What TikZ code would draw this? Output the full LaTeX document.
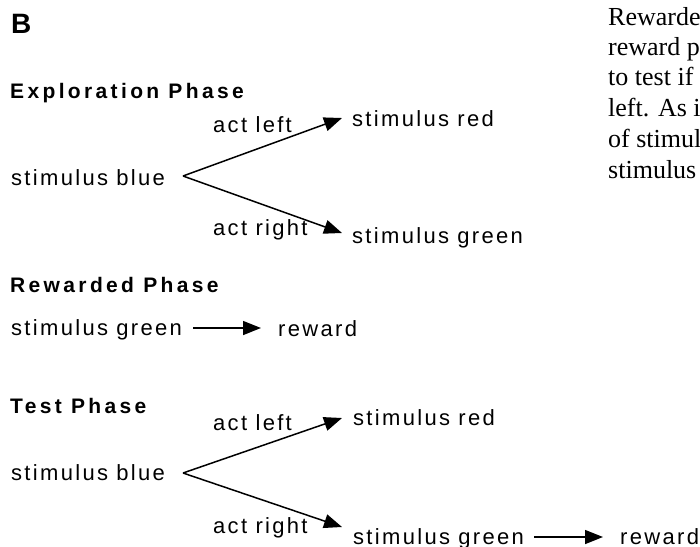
\documentclass[tikz,border=0pt]{standalone}
\usepackage{fontspec}
\setmainfont{Liberation Serif}
\newfontfamily\lab[LetterSpace=10.5]{Liberation Sans}
\newfontfamily\hdr[LetterSpace=16]{Liberation Sans}
\usetikzlibrary{arrows.meta}
\begin{document}
\begin{tikzpicture}[x=1pt,y=-1pt,
  txt/.style={anchor=base west,inner sep=0pt,font=\lab\fontsize{22}{26}\selectfont},
  head/.style={anchor=base west,inner sep=0pt,font=\hdr\bfseries\fontsize{21}{25}\selectfont},
  side/.style={anchor=base west,inner sep=0pt,font=\rmfamily\fontsize{26}{30}\selectfont},
  arr/.style={line width=1.5pt,-{Triangle[length=18pt,width=14pt]}}]
\useasboundingbox (0,0) rectangle (700,546);
\clip (0,0) rectangle (700,546);
% panel letter
\node[anchor=base west,inner sep=0pt,font=\hdr\bfseries\fontsize{28}{32}\selectfont] (B) at (11,33) {B};
% Exploration phase
\node[head] (h1) at (10,98) {Exploration Phase};
\node[txt] (eblue) at (11,185) {stimulus blue};
\node[txt] (eleft) at (213,132) {act left};
\node[txt] (eright) at (213,235) {act right};
\node[txt] (ered) at (352,126) {stimulus red};
\node[txt] (egreen) at (352,243) {stimulus green};
\coordinate (ev) at (183,176);
\coordinate (et1) at (342,118);
\coordinate (et2) at (342,233);
\draw[arr] (ev) -- (et1);
\draw[arr] (ev) -- (et2);
% Rewarded phase
\node[head] (h2) at (10,292) {Rewarded Phase};
\node[txt] (rgreen) at (11,335) {stimulus green};
\node[txt] (rrew) at (278,336) {reward};
\draw[arr] ([xshift=11pt]rgreen.east|-0,328) -- ([xshift=-17pt]rrew.west|-0,328);
% Test phase
\node[head] (h3) at (10,413) {Test Phase};
\node[txt] (tblue) at (11,480) {stimulus blue};
\node[txt] (tleft) at (213,430) {act left};
\node[txt] (tright) at (213,533) {act right};
\node[txt] (tred) at (353,425) {stimulus red};
\node[txt] (tgreen) at (353,544) {stimulus green};
\node[txt] (trew) at (620,544) {reward};
\coordinate (tv) at (183,473);
\coordinate (tt1) at (342,418);
\coordinate (tt2) at (342,527);
\draw[arr] (tv) -- (tt1);
\draw[arr] (tv) -- (tt2);
\draw[arr] ([xshift=10pt]tgreen.east|-0,537) -- ([xshift=-17pt]trew.west|-0,537);
% side text
\node[side] (s1) at (608,25) {Rewarde};
\node[side] (s2) at (608,55) {reward p};
\node[side] (s3) at (608,85) {to test if};
\node[side] (s4) at (608,116) {left. As i};
\node[side] (s5) at (608,147) {of stimul};
\node[side] (s6) at (608,178) {stimulus};
\end{tikzpicture}
\end{document}
